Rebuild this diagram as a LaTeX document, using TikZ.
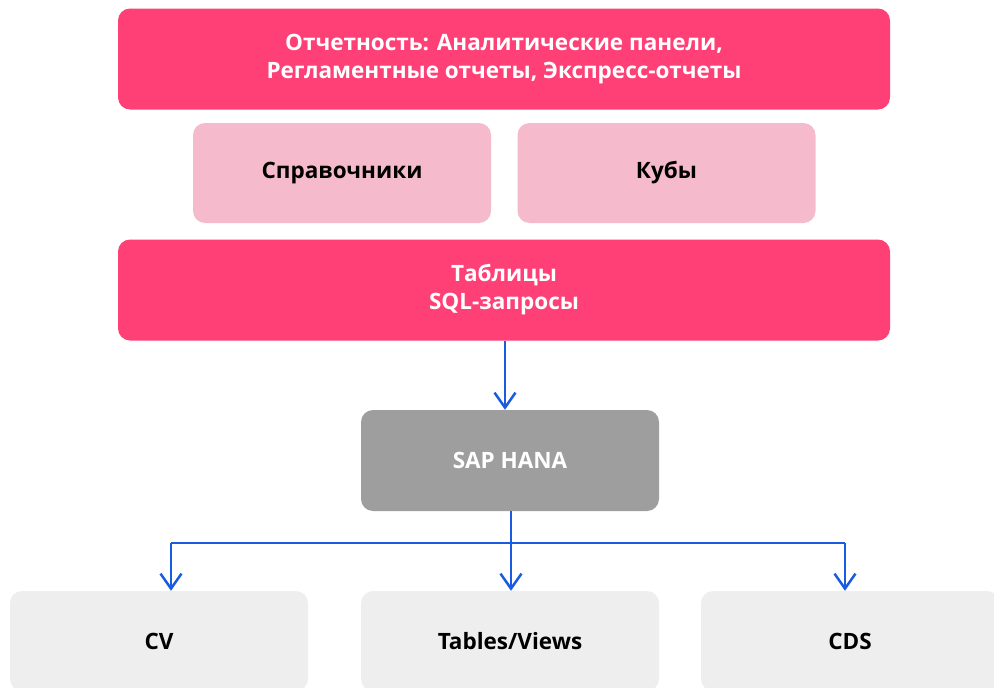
\documentclass[tikz,border=0pt]{standalone}
\usepackage{fontspec}
\setmainfont{Open Sans}
\usetikzlibrary{arrows.meta}
\definecolor{hot}{HTML}{FF4076}
\definecolor{soft}{HTML}{F5BBCC}
\definecolor{hana}{HTML}{9E9E9E}
\definecolor{leaf}{HTML}{EEEEEE}
\definecolor{link}{HTML}{1A5CE0}
\tikzset{
  box/.style={rectangle, rounded corners=12pt, inner sep=0pt, align=center,
    font=\fontsize{22.5}{28}\selectfont\bfseries},
  hotbox/.style={box, fill=hot, text=white, minimum width=772pt, minimum height=101pt},
  softbox/.style={box, fill=soft, text=black, minimum width=298pt, minimum height=100pt},
  hanabox/.style={box, fill=hana, text=white, minimum width=298pt, minimum height=101pt},
  leafbox/.style={box, fill=leaf, text=black, minimum width=298pt, minimum height=100pt},
  arr/.style={draw=link, line width=2.5pt, -{Straight Barb[length=15pt,width=21pt,line width=2.5pt]}},
}
\begin{document}
\begin{tikzpicture}[x=1pt,y=-1pt]
\useasboundingbox (0,0) rectangle (994,688);
\clip (0,0) rectangle (994,688);
\node[hotbox] (rep) at (504,59) {Отчетность: Аналитические панели,\\Регламентные отчеты, Экспресс-отчеты};
\node[softbox] (spr) at (342,173) {Справочники};
\node[softbox] (kub) at (666.5,173) {Кубы};
\node[hotbox] (tab) at (504,290) {Таблицы\\SQL-запросы};
\node[hanabox] (sap) at (510,460.5) {SAP HANA};
\node[leafbox] (cv) at (159,641) {CV};
\node[leafbox] (tv) at (510,641) {Tables/Views};
\node[leafbox] (cds) at (850,641) {CDS};
\coordinate (jl) at (171,543);
\coordinate (jr) at (845,543);
\draw[arr] ([xshift=1pt]tab.south) -- ([xshift=-5pt]sap.north);
\draw[arr] ([xshift=1pt]sap.south) -- ([xshift=1pt]tv.north);
\draw[draw=link, line width=2.5pt] (jl) -- (jr);
\draw[arr] (jl) -- (jl |- cv.north);
\draw[arr] (jr) -- (jr |- cds.north);
\end{tikzpicture}
\end{document}
